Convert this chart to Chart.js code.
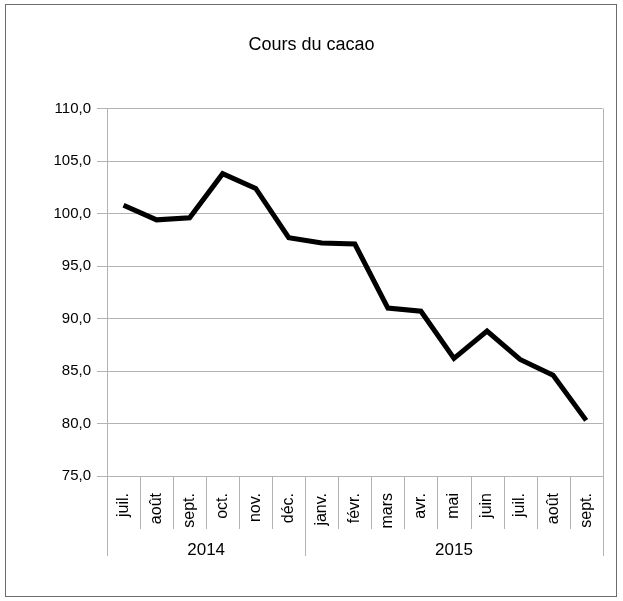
<!DOCTYPE html>
<html>
<head>
<meta charset="utf-8">
<script src="https://cdn.jsdelivr.net/npm/chart.js@4/dist/chart.umd.min.js"></script>
<style>
    body { margin: 0; background: #ffffff; }
    #box { width: 623px; height: 601px; }
</style>
</head>
<body>
<div id="box"><canvas id="canvasCacao" width="623" height="601"></canvas></div>
<script>
// data
var months = ["juil.", "août", "sept.", "oct.", "nov.", "déc.",
    "janv.", "févr.", "mars", "avr.", "mai", "juin", "juil.", "août", "sept."];
var years = ["2014", "2015"];
var monthsPerYear = [6, 9];
var prices = [100.8, 99.4, 99.6, 103.8, 102.4, 97.7,
    97.2, 97.1, 91.0, 90.7, 86.2, 88.8, 86.1, 84.6, 80.3];
var yMin = 75;
var yMax = 110;
var yStep = 5;

var gridColor = "#b3b3b3";
var fontName = "'Liberation Sans', Arial, sans-serif";

// draws the frame, the month/year dividers under the axis and the year labels
var groupAxis = {
    id: "groupAxis",
    beforeDraw: function (chart)
    {
        var ctx = chart.ctx;
        ctx.save();
        ctx.strokeStyle = "#6b6b6b";
        ctx.lineWidth = 1;
        ctx.strokeRect(5.5, 4.5, 611, 592);
        ctx.restore();
    },
    afterDraw: function (chart)
    {
        var ctx = chart.ctx;
        var area = chart.chartArea;
        var xs = chart.scales.x;
        var n = months.length;
        var step = (xs.getPixelForValue(1) - xs.getPixelForValue(0));
        var monthBottom = area.bottom + 53;
        var yearBottom = area.bottom + 80;

        ctx.save();
        ctx.strokeStyle = gridColor;
        ctx.lineWidth = 1;

        // right edge of the plot
        ctx.beginPath();
        ctx.moveTo(Math.round(area.right) + 0.5, area.top);
        ctx.lineTo(Math.round(area.right) + 0.5, yearBottom);
        ctx.stroke();

        // month dividers
        var ends = [];
        var k = 0;
        for (var g = 0; g < monthsPerYear.length; ++ g)
        {
            k += monthsPerYear[g];
            ends.push(k);
        }
        for (var i = 0; i <= n; ++ i)
        {
            var x = Math.round(xs.getPixelForValue(0) - step / 2 + i * step) + 0.5;
            var bottom = (i === 0 || ends.indexOf(i) >= 0) ? yearBottom : monthBottom;
            ctx.beginPath();
            ctx.moveTo(x, area.bottom);
            ctx.lineTo(x, bottom);
            ctx.stroke();
        }

        // year labels
        ctx.fillStyle = "#000000";
        ctx.font = "17px " + fontName;
        ctx.textAlign = "center";
        ctx.textBaseline = "middle";
        var start = 0;
        for (var j = 0; j < years.length; ++ j)
        {
            var a = xs.getPixelForValue(start) - step / 2;
            var b = xs.getPixelForValue(start + monthsPerYear[j] - 1) + step / 2;
            ctx.fillText(years[j], (a + b) / 2, area.bottom + 74);
            start += monthsPerYear[j];
        }
        ctx.restore();
    }
};

var config = {
    type: "line",
    data: {
        labels: months,
        datasets: [{
            data: prices,
            borderColor: "#000000",
            borderWidth: 5,
            pointRadius: 0,
            tension: 0,
            fill: false
        }]
    },
    options: {
        responsive: false,
        animation: false,
        layout: { padding: 0 },
        plugins: {
            legend: { display: false },
            tooltip: { enabled: false },
            title: {
                display: true,
                text: "Cours du cacao",
                color: "#000000",
                font: { family: fontName, size: 18, weight: "normal" },
                padding: { top: 34, bottom: 53 }
            }
        },
        scales: {
            x: {
                offset: true,
                grid: { display: false, drawTicks: false },
                border: { display: true, color: gridColor },
                ticks: {
                    color: "#000000",
                    font: { family: fontName, size: 16 },
                    minRotation: 90,
                    maxRotation: 90,
                    autoSkip: false,
                    padding: 17
                },
                afterFit: function (scale) { scale.height = 125; }
            },
            y: {
                min: yMin,
                max: yMax,
                grid: { color: gridColor, tickLength: 10 },
                border: { display: true, color: gridColor },
                ticks: {
                    stepSize: yStep,
                    color: "#000000",
                    font: { family: fontName, size: 15 },
                    padding: 6,
                    callback: function (v) { return v.toFixed(1).replace(".", ","); }
                },
                afterFit: function (scale) { scale.width = 107; }
            },
            // empty strip on the right so the title stays centred on the page
            yRight: {
                position: "right",
                min: yMin,
                max: yMax,
                grid: { display: false, drawTicks: false },
                border: { display: false },
                ticks: { display: false },
                afterFit: function (scale) { scale.width = 19; }
            }
        }
    },
    plugins: [groupAxis]
};

var chart = new Chart(document.getElementById("canvasCacao").getContext("2d"), config);
</script>
</body>
</html>
